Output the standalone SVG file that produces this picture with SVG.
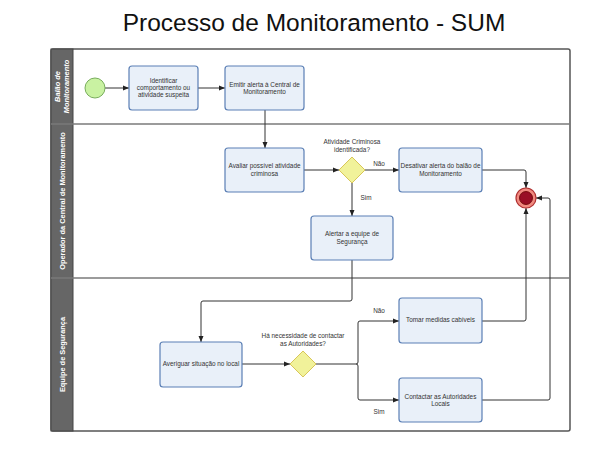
<svg xmlns="http://www.w3.org/2000/svg" width="592" height="455" viewBox="0 0 592 455">
<style>
.box{fill:#e9f0f9;stroke:#5b7fb5;stroke-width:1.2}
.gw{fill:#f1f29a;stroke:#d8c659;stroke-width:1}
.t{font-family:"Liberation Sans",Arial,sans-serif;font-size:6.4px;fill:#333;text-anchor:middle}
.lane{font-family:"Liberation Sans",Arial,sans-serif;font-size:7.4px;font-weight:bold;fill:#fff;text-anchor:middle}
.c{fill:none;stroke:#333;stroke-width:1;stroke-linejoin:round}
.div{stroke:#7a7a7a;stroke-width:1.5}
</style>
<defs>
<marker id="ah" markerWidth="6" markerHeight="6" refX="6" refY="3" orient="auto" markerUnits="userSpaceOnUse">
<path d="M0,0.5 L6,3 L0,5.5 z" fill="#222"/>
</marker>
</defs>
<rect width="592" height="455" fill="#fff"/>
<text x="314" y="30.5" font-family="Liberation Sans,Arial,sans-serif" font-size="24.5" fill="#111" text-anchor="middle">Processo de Monitoramento - SUM</text>

<g id="pool">
<rect x="51" y="49" width="519" height="382" rx="2" fill="#fff" stroke="#555" stroke-width="1.5"/>
<rect x="51" y="49" width="22" height="382" fill="#666" stroke="#444" stroke-width="1"/>
<line class="div" x1="51" y1="124" x2="570" y2="124"/>
<line class="div" x1="51" y1="278" x2="570" y2="278"/>
</g>
<g id="lane1">
<text class="lane" font-style="italic" transform="translate(62,86.5) rotate(-90)"><tspan x="0" y="-2">Balão de</tspan><tspan x="0" y="6.5">Monitoramento</tspan></text>
</g>
<g id="lane2">
<text class="lane" transform="translate(64.5,201) rotate(-90)" x="0" y="0">Operador da Central de Monitoramento</text>
</g>
<g id="lane3">
<text class="lane" transform="translate(64.5,354.5) rotate(-90)" x="0" y="0">Equipe de Segurança</text>
</g>

<g id="connectors">
<path class="c" d="M105,88 H129" marker-end="url(#ah)"/>
<path class="c" d="M198,88 H225" marker-end="url(#ah)"/>
<path class="c" d="M265,110 V148" marker-end="url(#ah)"/>
<path class="c" d="M304,170 H339" marker-end="url(#ah)"/>
<path class="c" d="M365,170 H399" marker-end="url(#ah)"/>
<path class="c" d="M352,183 V216" marker-end="url(#ah)"/>
<path class="c" d="M482,170 H524 Q526,170 526,172 V188" marker-end="url(#ah)"/>
<path class="c" d="M352,260 V299 Q352,301 350,301 H203 Q201,301 201,303 V342" marker-end="url(#ah)"/>
<path class="c" d="M242,364 H290" marker-end="url(#ah)"/>
<path class="c" d="M316,364 H356 Q358,364 358,362 V323 Q358,321 360,321 H399" marker-end="url(#ah)"/>
<path class="c" d="M356,364 Q358,364 358,366 V398 Q358,400 360,400 H399" marker-end="url(#ah)"/>
<path class="c" d="M482,321 H524 Q526,321 526,319 V208" marker-end="url(#ah)"/>
<path class="c" d="M482,400 H548 Q550,400 550,398 V200 Q550,198 548,198 H536" marker-end="url(#ah)"/>
<text class="t" x="379" y="166">Não</text>
<text class="t" x="366" y="200">Sim</text>
<text class="t" x="379" y="313">Não</text>
<text class="t" x="379" y="414">Sim</text>
</g>

<g id="start">
<circle cx="95" cy="88" r="10" fill="#c9f2a2" stroke="#78ad5c" stroke-width="1"/>
</g>
<g id="identificar">
<rect class="box" x="129" y="66" width="69" height="44" rx="3"/>
<text class="t"><tspan x="163.5" y="83">Identificar</tspan><tspan x="163.5" y="90.2">comportamento ou</tspan><tspan x="163.5" y="97.4">atividade suspeita</tspan></text>
</g>
<g id="emitir">
<rect class="box" x="225" y="66" width="79" height="44" rx="3"/>
<text class="t"><tspan x="264.5" y="86.5">Emitir alerta à Central de</tspan><tspan x="264.5" y="94">Monitoramento</tspan></text>
</g>
<g id="avaliar">
<rect class="box" x="225" y="148" width="79" height="44" rx="3"/>
<text class="t"><tspan x="264.5" y="168">Avaliar possível atividade</tspan><tspan x="264.5" y="175.5">criminosa</tspan></text>
</g>
<g id="gw1">
<path class="gw" d="M352,157 L365,170 L352,183 L339,170 z"/>
<text class="t"><tspan x="352" y="144">Atividade Criminosa</tspan><tspan x="352" y="151.5">identificada?</tspan></text>
</g>
<g id="desativar">
<rect class="box" x="399" y="148" width="83" height="44" rx="3"/>
<text class="t"><tspan x="440.5" y="168">Desativar alerta do balão de</tspan><tspan x="440.5" y="175.5">Monitoramento</tspan></text>
</g>
<g id="alertar">
<rect class="box" x="311" y="216" width="82" height="44" rx="3"/>
<text class="t"><tspan x="352" y="236">Alertar a equipe de</tspan><tspan x="352" y="243.5">Segurança</tspan></text>
</g>
<g id="end">
<circle cx="526" cy="198" r="10" fill="#f08a80" stroke="#b03030" stroke-width="1.2"/>
<circle cx="526" cy="198" r="6.5" fill="#990f26" stroke="#600" stroke-width="0.8"/>
</g>
<g id="averiguar">
<rect class="box" x="160" y="342" width="82" height="45" rx="3"/>
<text class="t" x="201" y="366">Averiguar situação no local</text>
</g>
<g id="gw2">
<path class="gw" d="M303,351 L316,364 L303,377 L290,364 z"/>
<text class="t"><tspan x="303" y="338">Há necessidade de contactar</tspan><tspan x="303" y="345.5">as Autoridades?</tspan></text>
</g>
<g id="tomar">
<rect class="box" x="399" y="298" width="83" height="45" rx="3"/>
<text class="t" x="440.5" y="321.5">Tomar medidas cabíveis</text>
</g>
<g id="contactar">
<rect class="box" x="399" y="378" width="83" height="44" rx="3"/>
<text class="t"><tspan x="440.5" y="398.5">Contactar as Autoridades</tspan><tspan x="440.5" y="406">Locais</tspan></text>
</g>
</svg>
